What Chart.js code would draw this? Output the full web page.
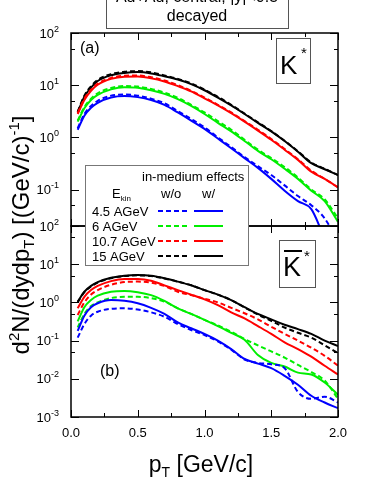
<!DOCTYPE html>
<html lang="en">
<head>
<meta charset="UTF-8">
<title>K* and anti-K* pT spectra</title>
<script src="https://cdn.jsdelivr.net/npm/chart.js"></script>
<style>
  body { margin: 0; background: #fff; }
  #wrap { position: relative; width: 382px; height: 494px; overflow: hidden; }
  #wrap canvas { position: absolute; left: 0; top: 0; }
</style>
</head>
<body>
<div id="wrap">
  <canvas id="topChart" width="382" height="494"></canvas>
  <canvas id="botChart" width="382" height="494"></canvas>
</div>
<script>
// transverse momentum grid (GeV/c)
const pT = [0.05, 0.1, 0.15, 0.2, 0.3, 0.4, 0.5, 0.6, 0.7, 0.8, 0.9, 1.0, 1.1, 1.2, 1.3, 1.4, 1.5, 1.6, 1.7, 1.8, 1.9, 2.0];

// (a) K*  -- w/o and w/ in-medium effects
const kWo45  = [1.5, 2.8, 4.0, 5.0, 6.3, 6.6, 6.3, 5.5, 4.5, 3.2, 2.25, 1.55, 1.0, 0.65, 0.42, 0.28, 0.19, 0.12, 0.075, 0.05, 0.028, 0.01];
const kW45   = [1.4, 2.6, 3.7, 4.6, 5.8, 6.2, 5.9, 5.2, 4.2, 3.0, 2.1, 1.45, 0.95, 0.62, 0.4, 0.26, 0.16, 0.095, 0.06, 0.042, 0.012, 0.005];
const kWo6   = [2.1, 3.8, 5.5, 7.0, 8.8, 9.6, 9.4, 8.5, 7.2, 5.7, 4.2, 3.0, 2.05, 1.4, 0.9, 0.58, 0.4, 0.27, 0.17, 0.1, 0.065, 0.028];
const kW6    = [2.0, 3.6, 5.2, 6.5, 8.3, 9.1, 8.9, 8.0, 6.8, 5.4, 4.0, 2.8, 1.9, 1.3, 0.85, 0.55, 0.38, 0.25, 0.16, 0.095, 0.06, 0.024];
const kWo107 = [2.9, 5.5, 8.2, 10.7, 13.8, 15.2, 15.3, 14.2, 12.3, 10.0, 7.8, 5.8, 4.2, 3.0, 2.05, 1.4, 0.93, 0.6, 0.38, 0.23, 0.16, 0.11];
const kW107  = [2.8, 5.2, 7.8, 10.2, 13.2, 14.5, 14.6, 13.6, 11.8, 9.6, 7.6, 5.6, 4.1, 2.9, 2.0, 1.35, 0.9, 0.58, 0.37, 0.22, 0.16, 0.11];
const kWo15  = [3.1, 6.3, 9.5, 12.6, 16.3, 18.0, 18.6, 17.6, 15.4, 13.2, 10.8, 8.2, 6.0, 4.2, 2.85, 1.95, 1.32, 0.86, 0.54, 0.33, 0.25, 0.19];
const kW15   = [3.0, 6.0, 9.0, 12.0, 15.5, 17.2, 17.8, 16.8, 14.8, 12.8, 10.5, 8.0, 5.8, 4.1, 2.8, 1.9, 1.3, 0.85, 0.53, 0.32, 0.245, 0.19];

// (b) anti-K*
const akWo45  = [0.12, 0.27, 0.45, 0.57, 0.68, 0.7, 0.65, 0.55, 0.42, 0.27, 0.19, 0.14, 0.095, 0.058, 0.032, 0.026, 0.024, 0.019, 0.0045, 0.003, 0.0034, 0.0024];
const akW45   = [0.18, 0.45, 0.75, 0.95, 1.15, 1.1, 0.95, 0.72, 0.5, 0.3, 0.21, 0.15, 0.1, 0.06, 0.033, 0.025, 0.019, 0.012, 0.007, 0.0036, 0.0024, 0.0017];
const akWo6   = [0.22, 0.5, 0.8, 1.0, 1.3, 1.4, 1.4, 1.3, 1.05, 0.7, 0.5, 0.35, 0.25, 0.17, 0.11, 0.075, 0.052, 0.036, 0.023, 0.015, 0.009, 0.003];
const akW6    = [0.32, 0.75, 1.15, 1.5, 1.9, 2.0, 1.85, 1.55, 1.1, 0.7, 0.5, 0.35, 0.24, 0.16, 0.105, 0.042, 0.026, 0.021, 0.0145, 0.013, 0.008, 0.0038];
const akWo107 = [0.47, 1.0, 1.6, 2.1, 2.9, 3.4, 3.5, 3.3, 2.7, 1.9, 1.55, 1.25, 1.0, 0.72, 0.52, 0.36, 0.23, 0.15, 0.1, 0.065, 0.04, 0.022];
const akW107  = [0.7, 1.4, 2.1, 2.7, 3.6, 4.1, 4.1, 3.7, 2.8, 2.1, 1.6, 1.2, 0.85, 0.55, 0.38, 0.24, 0.15, 0.09, 0.06, 0.038, 0.022, 0.013];
const akWo15  = [1.0, 1.85, 2.6, 3.3, 4.3, 4.9, 5.1, 4.9, 4.2, 3.5, 2.8, 2.1, 1.6, 1.15, 0.74, 0.48, 0.33, 0.22, 0.16, 0.12, 0.075, 0.047];
const akW15   = [1.05, 1.9, 2.7, 3.4, 4.4, 5.0, 5.2, 5.0, 4.3, 3.5, 2.8, 2.1, 1.6, 1.15, 0.75, 0.5, 0.36, 0.26, 0.2, 0.15, 0.1, 0.072];

// labels
const energies = ['4.5 AGeV', '6 AGeV', '10.7 AGeV', '15 AGeV'];
const colors = ['#0000ff', '#00ee00', '#ff0000', '#000000'];
const xTickVals = [0, 0.5, 1.0, 1.5, 2.0];
const xTickLabels = ['0.0', '0.5', '1.0', '1.5', '2.0'];
const topDecades = [2, 1, 0, -1];
const botDecades = [2, 1, 0, -1, -2, -3];

const FONT = '"Liberation Sans", Arial, sans-serif';
const font = s => s + 'px ' + FONT;

function line(vals, color, dashed) {
  return {
    data: pT.map((x, i) => ({ x: x, y: vals[i] })),
    borderColor: color,
    borderWidth: 2,
    borderDash: dashed ? [5, 3] : [],
    pointRadius: 0,
    cubicInterpolationMode: 'monotone',
    fill: false,
    clip: 0
  };
}

// text with sub/superscripts: parts = [[text, size, shift], ...]
function richWidth(ctx, parts) {
  let w = 0;
  parts.forEach(p => { ctx.font = font(p[1]); w += ctx.measureText(p[0]).width; });
  return w;
}
function drawRich(ctx, parts, x, y, align) {
  const w = richWidth(ctx, parts);
  let cx = align === 'center' ? x - w / 2 : (align === 'right' ? x - w : x);
  ctx.textAlign = 'left';
  ctx.textBaseline = 'alphabetic';
  parts.forEach(p => {
    ctx.font = font(p[1]);
    ctx.fillText(p[0], cx, y + (p[2] || 0));
    cx += ctx.measureText(p[0]).width;
  });
}

// frame with inward ticks, tick labels
const framePlugin = {
  id: 'frame',
  afterDatasetsDraw(chart, args, opts) {
    const { ctx, chartArea: a } = chart;
    const xs = chart.scales.x, ys = chart.scales.y;
    ctx.save();
    ctx.strokeStyle = '#000';
    ctx.lineWidth = 1;
    ctx.setLineDash([]);
    ctx.beginPath();
    xs.ticks.forEach(t => {
      const px = Math.round(xs.getPixelForValue(t.value)) + 0.5;
      const len = Math.abs(t.value * 2 - Math.round(t.value * 2)) < 1e-6 ? 7 : 4;
      ctx.moveTo(px, a.bottom); ctx.lineTo(px, a.bottom - len);
      ctx.moveTo(px, a.top); ctx.lineTo(px, a.top + len);
    });
    ys.ticks.forEach(t => {
      const lg = Math.log10(t.value);
      const len = Math.abs(lg - Math.round(lg)) < 1e-6 ? 8 : 4;
      const py = Math.round(ys.getPixelForValue(t.value)) + 0.5;
      ctx.moveTo(a.left, py); ctx.lineTo(a.left + len, py);
      ctx.moveTo(a.right, py); ctx.lineTo(a.right - len, py);
    });
    ctx.stroke();
    ctx.lineWidth = 1.5;
    ctx.strokeRect(a.left, a.top, a.right - a.left, a.bottom - a.top);

    ctx.fillStyle = '#000';
    opts.decades.forEach(e => {
      const py = ys.getPixelForValue(Math.pow(10, e));
      drawRich(ctx, [['10', 13, 0], [String(e), 9, -6]], a.left - 12, py + 4.5, 'right');
    });
    if (opts.xLabels) {
      xTickVals.forEach((v, i) => {
        ctx.font = font(13);
        ctx.textAlign = 'center';
        ctx.textBaseline = 'alphabetic';
        ctx.fillText(xTickLabels[i], xs.getPixelForValue(v), a.bottom + 20);
      });
    }
    ctx.restore();
  }
};

// titles, panel labels, legend (drawn on the upper canvas)
const notesPlugin = {
  id: 'notes',
  afterDraw(chart) {
    const ctx = chart.ctx;
    ctx.save();
    ctx.fillStyle = '#000';
    ctx.setLineDash([]);

    // header box
    ctx.fillStyle = '#fff';
    ctx.fillRect(106, -2, 182, 30);
    ctx.strokeStyle = '#555';
    ctx.lineWidth = 1;
    ctx.strokeRect(106.5, -2, 182, 30.5);
    ctx.fillStyle = '#000';
    ctx.font = font(16);
    ctx.textAlign = 'center';
    ctx.fillText('Au+Au, central, |y|<0.5', 197, 2);
    ctx.fillText('decayed', 197, 21);

    // panel labels
    ctx.textAlign = 'left';
    ctx.font = font(16);
    ctx.fillText('(a)', 80, 53);
    ctx.fillText('(b)', 100, 376);

    // K* boxes
    ctx.strokeStyle = '#555';
    ctx.strokeRect(276.5, 38.5, 34, 45);
    ctx.font = font(26);
    ctx.fillText('K', 280, 74);
    ctx.font = font(15);
    ctx.fillText('*', 301, 58);

    ctx.strokeRect(279.5, 240.5, 36, 47);
    ctx.font = font(27);
    ctx.fillText('K', 283, 276);
    ctx.fillRect(284, 250, 18, 2);
    ctx.font = font(15);
    ctx.fillText('*', 304, 261);

    // y axis title
    ctx.save();
    ctx.translate(29, 235);
    ctx.rotate(-Math.PI / 2);
    drawRich(ctx, [['d', 24, 0], ['2', 15, -10], ['N/(dydp', 24, 0], ['T', 15, 5],
      [') [(GeV/c)', 24, 0], ['-1', 15, -10], [']', 24, 0]], 0, 0, 'center');
    ctx.restore();

    // x axis title
    drawRich(ctx, [['p', 23, 0], ['T', 14, 5], [' [GeV/c]', 23, 0]], 201, 472, 'center');

    // legend
    const L = { x: 85, y: 165, w: 163, h: 100 };
    ctx.fillStyle = '#fff';
    ctx.fillRect(L.x, L.y, L.w, L.h);
    ctx.strokeStyle = '#777';
    ctx.lineWidth = 1;
    ctx.strokeRect(L.x + 0.5, L.y + 0.5, L.w, L.h);
    ctx.fillStyle = '#000';
    ctx.font = font(13);
    ctx.textAlign = 'left';
    ctx.fillText('in-medium effects', 142, 181);
    drawRich(ctx, [['E', 13, 0], ['kin', 8, 3]], 112, 198, 'left');
    ctx.font = font(13);
    ctx.fillText('w/o', 161, 198);
    ctx.fillText('w/', 202, 198);
    energies.forEach((lab, i) => {
      const cy = 211 + i * 15;
      ctx.font = font(13);
      ctx.fillStyle = '#000';
      ctx.fillText(lab, 92, cy + 4.5);
      ctx.strokeStyle = colors[i];
      ctx.lineWidth = 2;
      ctx.setLineDash([5, 3]);
      ctx.beginPath(); ctx.moveTo(158, cy); ctx.lineTo(187, cy); ctx.stroke();
      ctx.setLineDash([]);
      ctx.beginPath(); ctx.moveTo(194, cy); ctx.lineTo(223, cy); ctx.stroke();
    });
    ctx.restore();
  }
};

function makeOptions(yMin, pad, decades, xLabels) {
  return {
    responsive: false,
    animation: false,
    events: [],
    layout: { padding: pad },
    plugins: {
      legend: { display: false },
      tooltip: { enabled: false },
      frame: { decades: decades, xLabels: xLabels }
    },
    scales: {
      x: { type: 'linear', min: 0, max: 2, display: false, ticks: { stepSize: 0.25 } },
      y: { type: 'logarithmic', min: yMin, max: 100, display: false }
    }
  };
}

new Chart(document.getElementById('topChart'), {
  type: 'line',
  data: {
    datasets: [
      line(kW45, colors[0], false), line(kWo45, colors[0], true),
      line(kW6, colors[1], false), line(kWo6, colors[1], true),
      line(kW107, colors[2], false), line(kWo107, colors[2], true),
      line(kW15, colors[3], false), line(kWo15, colors[3], true)
    ]
  },
  options: makeOptions(0.02, { left: 71, right: 44, top: 33, bottom: 268 }, topDecades, false),
  plugins: [framePlugin]
});

new Chart(document.getElementById('botChart'), {
  type: 'line',
  data: {
    datasets: [
      line(akW45, colors[0], false), line(akWo45, colors[0], true),
      line(akW6, colors[1], false), line(akWo6, colors[1], true),
      line(akW107, colors[2], false), line(akWo107, colors[2], true),
      line(akW15, colors[3], false), line(akWo15, colors[3], true)
    ]
  },
  options: makeOptions(0.001, { left: 71, right: 44, top: 226, bottom: 77 }, botDecades, true),
  plugins: [framePlugin, notesPlugin]
});
</script>
</body>
</html>
